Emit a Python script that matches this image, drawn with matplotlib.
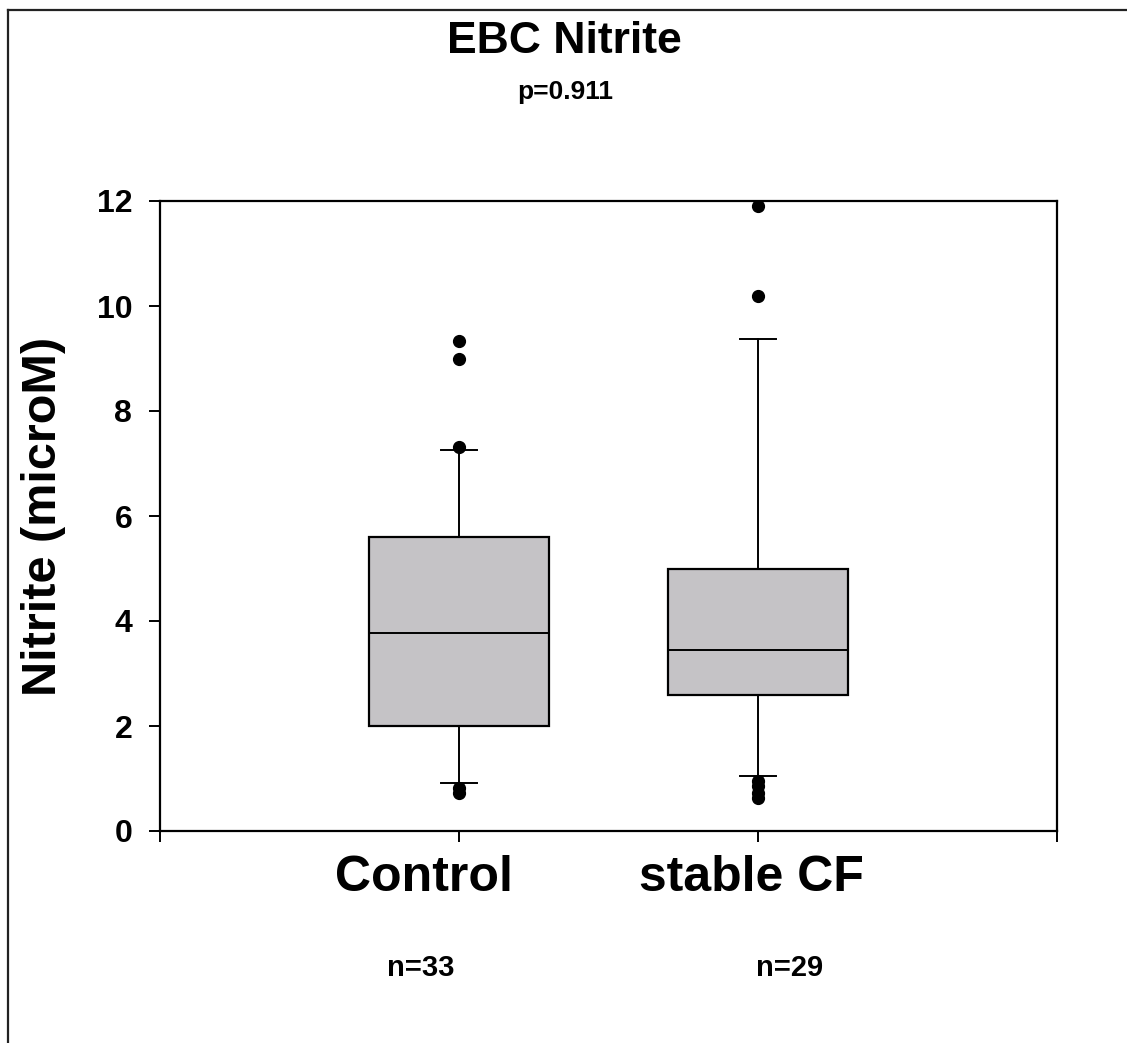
import matplotlib
matplotlib.use("Agg")
import matplotlib.pyplot as plt
from matplotlib.lines import Line2D
import matplotlib.transforms as mtransforms

plt.rcParams['font.family'] = ['Liberation Sans', 'DejaVu Sans']
plt.rcParams['font.weight'] = 'bold'

# Group summary statistics (microM)
groups = ["Control", "stable CF"]
counts = ["n=33", "n=29"]
q1 = [2.0, 2.6]
medians = [3.78, 3.45]
q3 = [5.6, 5.0]
whisker_low = [0.91, 1.05]
whisker_high = [7.25, 9.37]
outliers = [
    [9.33, 9.0, 7.31, 0.82, 0.72],
    [11.9, 10.2, 0.95, 0.85, 0.72, 0.62],
]
y_ticks = [0, 2, 4, 6, 8, 10, 12]

fig = plt.figure(figsize=(11.27, 10.43), dpi=100)
ax = fig.add_axes([160 / 1127, 1 - 831 / 1043, 897 / 1127, 630 / 1043])

stats = []
for i in range(len(groups)):
    stats.append(dict(label=groups[i], q1=q1[i], med=medians[i], q3=q3[i],
                      whislo=whisker_low[i], whishi=whisker_high[i],
                      fliers=outliers[i]))

ax.bxp(stats, positions=[1, 2], widths=0.6, patch_artist=True,
       boxprops=dict(facecolor='#C5C3C6', edgecolor='black', linewidth=1.6),
       medianprops=dict(color='black', linewidth=1.4),
       whiskerprops=dict(color='black', linewidth=1.4),
       capprops=dict(color='black', linewidth=1.4),
       capwidths=0.12,
       flierprops=dict(marker='o', markerfacecolor='black',
                       markeredgecolor='black', markersize=8.5))

ax.set_xlim(0, 3)
ax.set_ylim(0, 12)
ax.set_yticks(y_ticks)
ax.set_yticklabels([str(v) for v in y_ticks], fontsize=23, fontweight='bold')
ax.set_xticks([0, 1, 2, 3])
ax.set_xticklabels([])
ax.tick_params(axis='both', direction='out', length=8, width=1.4, pad=12)
for s in ax.spines.values():
    s.set_linewidth(1.6)

ax.set_ylabel("Nitrite (microM)", fontsize=35, fontweight='bold', labelpad=22)

# Group labels and sample sizes below the axis
trans = mtransforms.blended_transform_factory(ax.transData, fig.transFigure)
label_x = [0.883, 1.977]
count_x = [0.873, 2.107]
for i in range(len(groups)):
    fig.text(label_x[i], 1 - 878 / 1043, groups[i], transform=trans,
             ha='center', va='center', fontsize=36, fontweight='bold')
    fig.text(count_x[i], 1 - 968 / 1043, counts[i], transform=trans,
             ha='center', va='center', fontsize=21, fontweight='bold')

fig.text(564 / 1127, 1 - 42 / 1043, "EBC Nitrite", ha='center', va='center',
         fontsize=32, fontweight='bold')
fig.text(565 / 1127, 1 - 92 / 1043, "p=0.911", ha='center', va='center',
         fontsize=19, fontweight='bold')

# Outer frame (left and top edges)
fig.add_artist(Line2D([8 / 1127, 8 / 1127], [0, 1 - 10 / 1043],
                      transform=fig.transFigure, color='#222222', linewidth=1.6))
fig.add_artist(Line2D([8 / 1127, 1], [1 - 10 / 1043, 1 - 10 / 1043],
                      transform=fig.transFigure, color='#222222', linewidth=1.6))

fig.savefig("out.png", dpi=100, facecolor='white')
